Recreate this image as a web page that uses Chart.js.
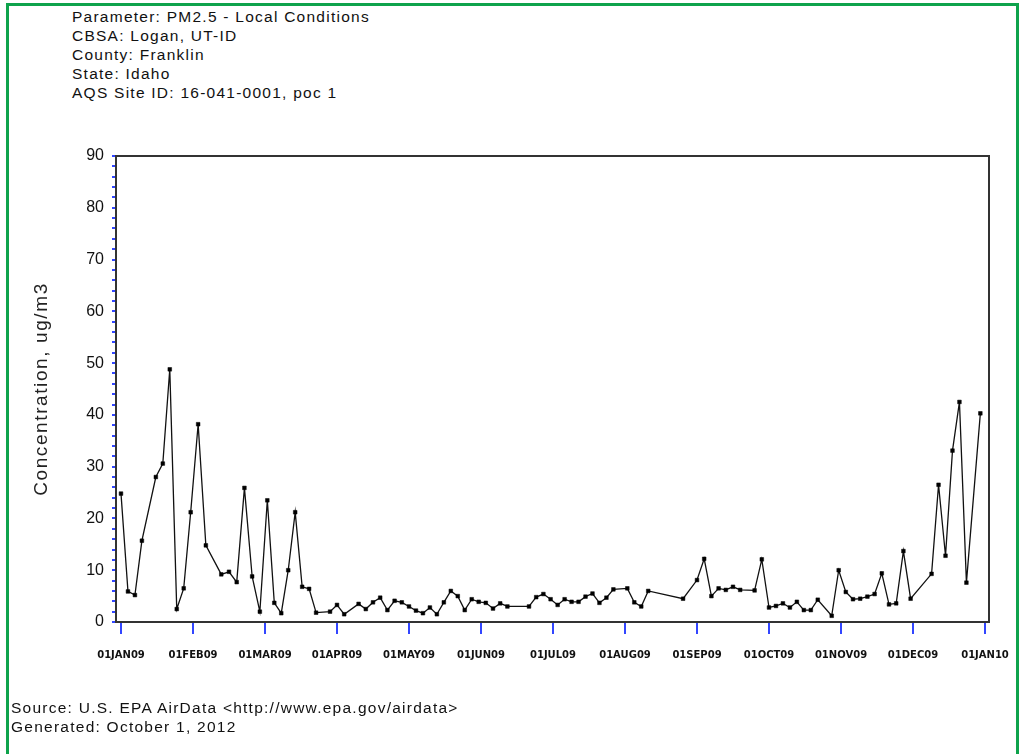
<!DOCTYPE html>
<html>
<head>
<meta charset="utf-8">
<script src="https://cdn.jsdelivr.net/npm/chart.js@4.4.1/dist/chart.umd.min.js"></script>
<style>
  html, body { margin: 0; padding: 0; background: #fff; }
  #wrap { position: relative; width: 1021px; height: 754px; overflow: hidden; }
  #frame { position: absolute; left: 6px; top: 3px; width: 1013px; height: 820px;
           border: 3px solid #0ea34c; box-sizing: border-box; }
  #chart { position: absolute; left: 0; top: 0; }
  .txt { position: absolute; font-family: "Liberation Sans", Arial, sans-serif; font-size: 15.5px;
         color: #111; letter-spacing: 1.25px; white-space: nowrap; line-height: 19px; }
</style>
</head>
<body>
<div id="wrap">
  <div id="frame"></div>
  <div class="txt" style="left:72px; top:7px;">
    Parameter: PM2.5 - Local Conditions<br>
    CBSA: Logan, UT-ID<br>
    County: Franklin<br>
    State: Idaho<br>
    AQS Site ID: 16-041-0001, poc 1
  </div>
  <canvas id="chart" width="1021" height="754"></canvas>
  <div class="txt" style="left:11px; top:698px;">
    Source: U.S. EPA AirData &lt;http://www.epa.gov/airdata&gt;<br>
    Generated: October 1, 2012
  </div>
</div>
<script>
// Sample dates (2009, one-in-three-day schedule) and daily PM2.5 concentrations (ug/m3)
const sampleDates = [
  '2009-01-01','2009-01-04','2009-01-07','2009-01-10','2009-01-16','2009-01-19','2009-01-22','2009-01-25','2009-01-28','2009-01-31',
  '2009-02-03','2009-02-06','2009-02-12','2009-02-15','2009-02-18','2009-02-21','2009-02-24','2009-02-27',
  '2009-03-02','2009-03-05','2009-03-08','2009-03-11','2009-03-14','2009-03-17','2009-03-20','2009-03-23','2009-03-29',
  '2009-04-01','2009-04-04','2009-04-10','2009-04-13','2009-04-16','2009-04-19','2009-04-22','2009-04-25','2009-04-28',
  '2009-05-01','2009-05-04','2009-05-07','2009-05-10','2009-05-13','2009-05-16','2009-05-19','2009-05-22','2009-05-25','2009-05-28','2009-05-31',
  '2009-06-03','2009-06-06','2009-06-09','2009-06-12','2009-06-21','2009-06-24','2009-06-27','2009-06-30',
  '2009-07-03','2009-07-06','2009-07-09','2009-07-12','2009-07-15','2009-07-18','2009-07-21','2009-07-24','2009-07-27',
  '2009-08-02','2009-08-05','2009-08-08','2009-08-11','2009-08-26',
  '2009-09-01','2009-09-04','2009-09-07','2009-09-10','2009-09-13','2009-09-16','2009-09-19','2009-09-25','2009-09-28',
  '2009-10-01','2009-10-04','2009-10-07','2009-10-10','2009-10-13','2009-10-16','2009-10-19','2009-10-22','2009-10-28','2009-10-31',
  '2009-11-03','2009-11-06','2009-11-09','2009-11-12','2009-11-15','2009-11-18','2009-11-21','2009-11-24','2009-11-27','2009-11-30',
  '2009-12-09','2009-12-12','2009-12-15','2009-12-18','2009-12-21','2009-12-24','2009-12-30'
];
const pm25Values = [
  24.8, 5.9, 5.2, 15.7, 28.0, 30.6, 48.8, 2.5, 6.5, 21.2,
  38.2, 14.8, 9.2, 9.7, 7.7, 25.9, 8.8, 2.0,
  23.5, 3.7, 1.7, 10.0, 21.2, 6.8, 6.4, 1.8, 2.0,
  3.3, 1.5, 3.5, 2.5, 3.8, 4.7, 2.3, 4.1, 3.8,
  3.0, 2.2, 1.7, 2.8, 1.5, 3.8, 6.0, 5.0, 2.3, 4.4, 3.9,
  3.7, 2.6, 3.6, 3.0, 3.0, 4.8, 5.4, 4.4,
  3.3, 4.4, 3.9, 3.9, 4.9, 5.5, 3.7, 4.7, 6.3,
  6.5, 3.8, 3.0, 6.0, 4.5,
  8.1, 12.2, 5.0, 6.5, 6.2, 6.8, 6.2, 6.1, 12.1,
  2.8, 3.1, 3.6, 2.8, 3.9, 2.3, 2.3, 4.3, 1.2, 10.0,
  5.8, 4.4, 4.5, 4.9, 5.4, 9.4, 3.4, 3.6, 13.7, 4.5,
  9.3, 26.5, 12.8, 33.1, 42.5, 7.6, 40.3
];
// Month tick labels along the time axis (one per month boundary)
const monthTickLabels = ['01JAN09','01FEB09','01MAR09','01APR09','01MAY09','01JUN09',
  '01JUL09','01AUG09','01SEP09','01OCT09','01NOV09','01DEC09','01JAN10'];
const daysInMonth = [31, 28, 31, 30, 31, 30, 31, 31, 30, 31, 30, 31];
const yAxisTitle = 'Concentration, ug/m3';

// The time axis gives every month the same width: position = month index + fraction of month
function monthPosition(iso) {
  const [, m, d] = iso.split('-').map(Number);
  return (m - 1) + (d - 1) / daysInMonth[m - 1];
}

const points = sampleDates.map((d, i) => ({ x: monthPosition(d), y: pm25Values[i] }));

const tickBlue = '#3246ff';
const axisDark = '#333333';

// Closed box around the plot area
const framePlugin = {
  id: 'plotFrame',
  afterDraw(chart) {
    const { ctx, chartArea: a } = chart;
    ctx.save();
    ctx.strokeStyle = axisDark;
    ctx.lineWidth = 2;
    ctx.strokeRect(a.left, a.top, a.right - a.left, a.bottom - a.top);
    ctx.restore();
  }
};

// Rotated, slightly letter-spaced title for the value axis
const yTitlePlugin = {
  id: 'yTitle',
  afterDraw(chart) {
    const { ctx, chartArea: a } = chart;
    ctx.save();
    ctx.translate(42, (a.top + a.bottom) / 2);
    ctx.rotate(-Math.PI / 2);
    ctx.font = '19px "Liberation Sans", Arial, sans-serif';
    if ('letterSpacing' in ctx) ctx.letterSpacing = '1.6px';
    ctx.fillStyle = '#222';
    ctx.textAlign = 'center';
    ctx.textBaseline = 'middle';
    ctx.fillText(yAxisTitle, 0, 0);
    ctx.restore();
  }
};

new Chart(document.getElementById('chart'), {
  type: 'line',
  data: {
    datasets: [{
      data: points,
      borderColor: '#111',
      borderWidth: 1.3,
      backgroundColor: '#000',
      pointBackgroundColor: '#000',
      pointBorderColor: '#000',
      pointStyle: 'rect',
      pointRadius: 2.6,
      pointBorderWidth: 0.5,
      tension: 0,
      fill: false
    }]
  },
  options: {
    responsive: false,
    animation: false,
    devicePixelRatio: 1,
    layout: { padding: { top: 156, right: 32, left: 0, bottom: 0 } },
    plugins: { legend: { display: false }, tooltip: { enabled: false } },
    scales: {
      x: {
        type: 'linear',
        min: -5 / 72,
        max: 12 + 4 / 72,
        afterBuildTicks(scale) {
          scale.ticks = monthTickLabels.map((_, i) => ({ value: i }));
        },
        afterFit(scale) {
          scale.height = 132;
          // end labels fit inside the page margins; keep the plot width fixed
          scale.paddingLeft = 0;
          scale.paddingRight = 0;
        },
        ticks: {
          autoSkip: false,
          maxRotation: 0,
          padding: 15,
          color: '#111',
          font: { family: 'DejaVu Sans', size: 10, weight: 'bold' },
          callback: (v, i) => monthTickLabels[i]
        },
        grid: { drawOnChartArea: false, drawTicks: true, tickLength: 12, color: tickBlue, lineWidth: 2 },
        border: { color: axisDark, width: 2 }
      },
      y: {
        min: 0,
        max: 90,
        afterFit(scale) { scale.width = 116; },
        ticks: {
          stepSize: 2,
          autoSkip: false,
          maxTicksLimit: 100,
          padding: 8,
          color: '#111',
          font: { family: 'Liberation Sans', size: 16 },
          callback: (v) => (v % 10 === 0 ? String(v) : '')
        },
        grid: { drawOnChartArea: false, drawTicks: true, tickLength: 4, color: tickBlue, lineWidth: 2 },
        border: { color: axisDark, width: 2 }
      }
    }
  },
  plugins: [framePlugin, yTitlePlugin]
});
</script>
</body>
</html>
